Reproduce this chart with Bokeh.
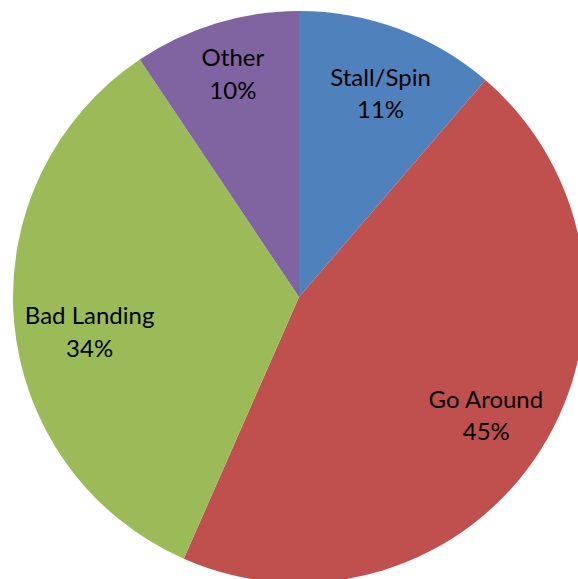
import math
from bokeh.plotting import figure
from bokeh.models import Range1d, ColumnDataSource
from bokeh.core.properties import value
from bokeh.embed import file_html
from bokeh.resources import INLINE

categories = ["Stall/Spin", "Go Around", "Bad Landing", "Other"]
shares = [11.3, 45.3, 34.0, 9.4]          # slice sizes
pct_labels = ["11%", "45%", "34%", "10%"]  # labels as printed
colors = ["#4F81BD", "#C0504D", "#9BBB59", "#8064A2"]
# small label nudges (screen px: right, down) mimicking the original's best-fit placement
label_nudge = [(5, 2), (1, 0), (10, 15), (-2, -13)]

W, H = 578, 579
cx, cy = 298.5, H - 296.5
R = 286

total = sum(shares)
starts, ends, lx, ly, labels = [], [], [], [], []
a = math.pi / 2
for c, v, t, (nx, ny) in zip(categories, shares, pct_labels, label_nudge):
    span = v / total * 2 * math.pi
    s, e = a, a - span
    starts.append(s)
    ends.append(e)
    mid = (s + e) / 2
    lx.append(cx + 0.77 * R * math.cos(mid) + nx)
    ly.append(cy + 0.77 * R * math.sin(mid) - ny)
    labels.append(f"{c}\n{t}")
    a = e

src = ColumnDataSource(dict(start=starts, end=ends, color=colors, x=lx, y=ly, label=labels))

p = figure(width=W, height=H, x_range=Range1d(0, W), y_range=Range1d(0, H),
           output_backend="svg", toolbar_location=None, min_border=0)
p.axis.visible = False
p.grid.visible = False
p.outline_line_color = None
p.background_fill_color = "white"

p.wedge(x=cx, y=cy, radius=R, start_angle="start", end_angle="end", direction="clock",
        fill_color="color", line_color=None, source=src)
p.text(x="x", y="y", text="label", source=src, text_align="center", text_baseline="middle",
       text_font=value("Lato"), text_font_size="24px", text_color="black", text_line_height=1.13)

open("out.html", "w").write(file_html(p, INLINE))
